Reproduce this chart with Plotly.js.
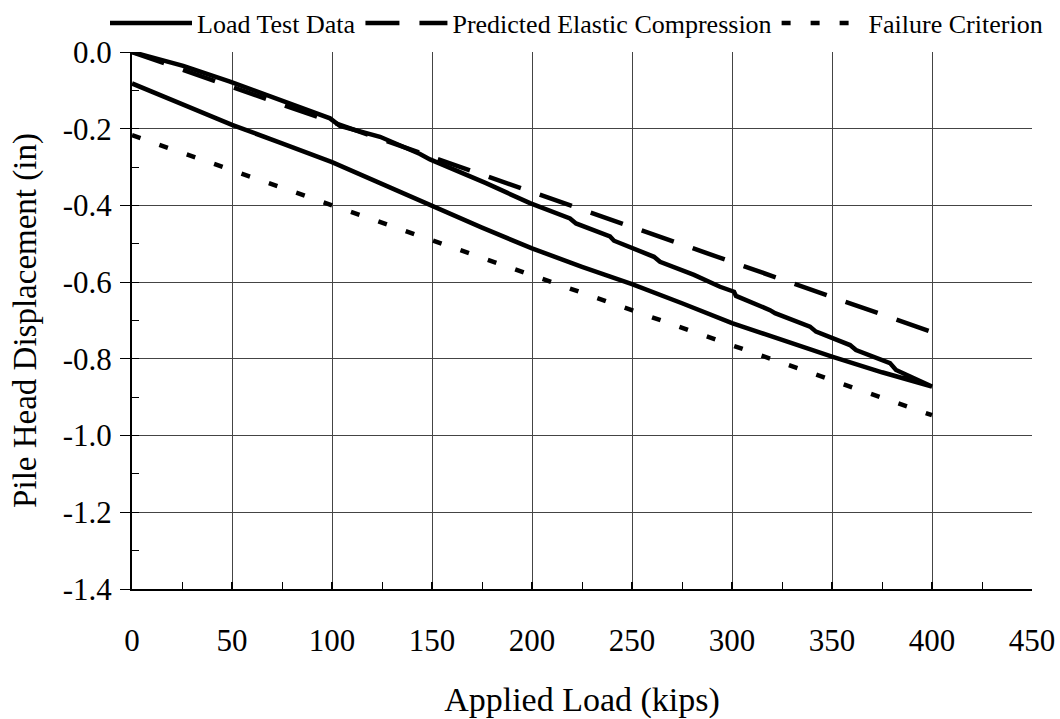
<!DOCTYPE html>
<html>
<head>
<meta charset="utf-8">
<script src="https://cdn.plot.ly/plotly-3.0.1.min.js"></script>
<style>html,body{margin:0;padding:0;background:#fff;}#chart{width:1060px;height:719px;}</style>
</head>
<body>
<div id="chart"></div>
<script>
// Load test: loading branch (kips, in)
const loadKips = [0, 25.6, 49, 60.6, 99, 104, 124, 144, 149, 177, 199, 219, 222, 239, 241, 261, 264, 281, 294, 301, 302, 319, 321.5, 339, 342, 359, 362, 379, 382, 400];
const loadDisp = [0, -0.036, -0.077, -0.099, -0.173, -0.193, -0.221, -0.266, -0.28, -0.342, -0.394, -0.434, -0.447, -0.481, -0.492, -0.534, -0.547, -0.581, -0.612, -0.625, -0.636, -0.673, -0.681, -0.716, -0.729, -0.764, -0.777, -0.811, -0.829, -0.872];
// Load test: unloading branch
const unloadKips = [400, 375, 350, 325, 300, 275, 250, 225, 200, 175, 150, 125, 100, 75, 50, 25, 0];
const unloadDisp = [-0.872, -0.835, -0.794, -0.75, -0.707, -0.655, -0.605, -0.56, -0.512, -0.458, -0.4, -0.343, -0.287, -0.238, -0.19, -0.136, -0.082];
// Predicted elastic compression
const elasticKips = [0, 400];
const elasticDisp = [0, -0.73];
// Failure criterion
const failKips = [0, 400];
const failDisp = [-0.217, -0.947];
// Tick labels
const yTickVals = [0, -0.2, -0.4, -0.6, -0.8, -1.0, -1.2, -1.4];
const yTickText = ["0.0", "-0.2", "-0.4", "-0.6", "-0.8", "-1.0", "-1.2", "-1.4"];
const xTickVals = [0, 50, 100, 150, 200, 250, 300, 350, 400, 450];

const FONT = "Liberation Serif";

const traces = [
  {x: loadKips.concat(unloadKips), y: loadDisp.concat(unloadDisp), mode: "lines", name: "Load Test Data",
   line: {color: "#000", width: 4.5}},
  {x: elasticKips, y: elasticDisp, mode: "lines", name: "Predicted Elastic Compression",
   line: {color: "#000", width: 4.5, dash: "34px,20px"}},
  {x: failKips, y: failDisp, mode: "lines", name: "Failure Criterion",
   line: {color: "#000", width: 4.5, dash: "9px,20px"}}
];

const layout = {
  width: 1060, height: 719,
  margin: {l: 132, r: 28, t: 52, b: 130, autoexpand: false},
  paper_bgcolor: "#fff", plot_bgcolor: "#fff",
  font: {family: FONT, color: "#000", size: 26},
  showlegend: true,
  legend: {orientation: "h", xref: "paper", yref: "paper", x: -0.03, xanchor: "left", y: 1.01, yanchor: "bottom",
           font: {family: FONT, size: 26, color: "#000"}, itemwidth: 82, tracegroupgap: 0,
           bgcolor: "rgba(0,0,0,0)", borderwidth: 0},
  xaxis: {
    range: [0, 450], tickvals: xTickVals, ticks: "inside", ticklen: 7, tickwidth: 1.5, tickcolor: "#000",
    showgrid: true, gridcolor: "#444", gridwidth: 1,
    showline: true, linecolor: "#000", linewidth: 2, zeroline: false,
    tickfont: {family: FONT, size: 31, color: "#000"}, ticklabelstandoff: 23,
    minor: {dtick: 25, ticks: "inside", ticklen: 7, tickcolor: "#000", tickwidth: 1, showgrid: false},
    title: {text: "Applied Load (kips)", font: {family: FONT, size: 34, color: "#000"}, standoff: 30},
    fixedrange: true
  },
  yaxis: {
    range: [-1.4, 0], tickvals: yTickVals, ticktext: yTickText, ticks: "outside", ticklen: 10, tickwidth: 1, tickcolor: "#000",
    showgrid: true, gridcolor: "#444", gridwidth: 1,
    showline: true, linecolor: "#000", linewidth: 2, zeroline: false,
    tickfont: {family: FONT, size: 31, color: "#000"}, ticklabelstandoff: 2,
    minor: {dtick: 0.1, ticks: "inside", ticklen: 7, tickcolor: "#000", tickwidth: 1, showgrid: false},
    title: {text: "Pile Head Displacement (in)", font: {family: FONT, size: 33, color: "#000"}, standoff: 16},
    fixedrange: true
  }
};

Plotly.newPlot("chart", traces, layout, {staticPlot: true, displayModeBar: false});
</script>
</body>
</html>
